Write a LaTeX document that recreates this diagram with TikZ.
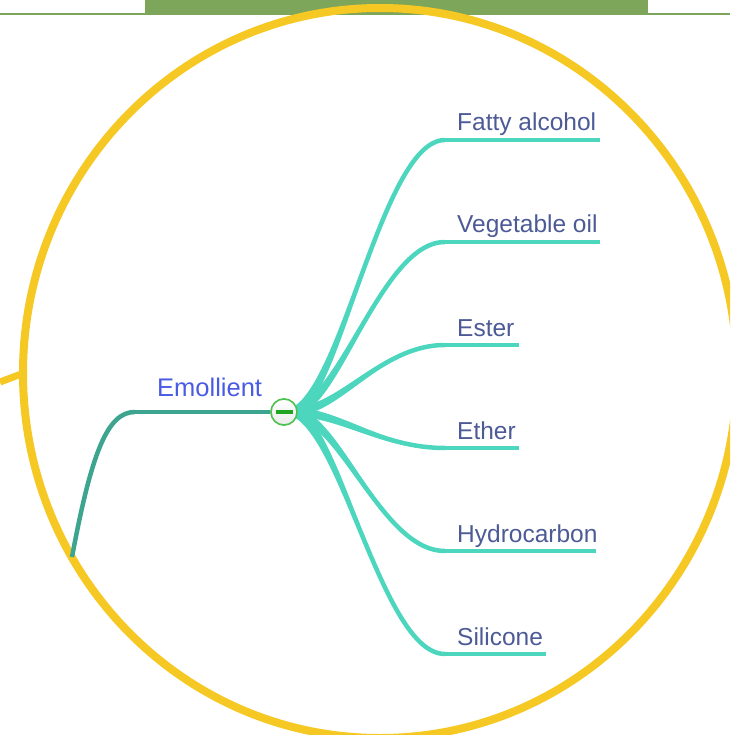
\documentclass[tikz,border=0pt]{standalone}
\usepackage{fontspec}
\setmainfont{Liberation Sans}
\usetikzlibrary{calc}
\definecolor{hdrgreen}{HTML}{7EA65A}
\definecolor{ringyellow}{HTML}{F5C823}
\definecolor{stemteal}{HTML}{3DA58F}
\definecolor{branchteal}{HTML}{4DD6BE}
\definecolor{rootblue}{HTML}{4A5BE3}
\definecolor{leafblue}{HTML}{4C5A96}
\definecolor{btngreen}{HTML}{4CC24C}
\definecolor{minusgreen}{HTML}{1FA51F}
\tikzset{
  leaf/.style={anchor=base west, inner sep=0pt, text=leafblue, font=\fontsize{24.5}{28}\selectfont},
  rootlabel/.style={anchor=base west, inner sep=0pt, text=rootblue, font=\fontsize{25.5}{30}\selectfont},
  branchfill/.style={fill=branchteal},
  branchline/.style={draw=branchteal, line width=4.5pt},
  underline/.style={draw=branchteal, line width=4pt},
  togglebtn/.style={circle, minimum size=26pt, inner sep=0pt, draw=btngreen, line width=1.5pt, fill=white},
}
\begin{document}
\begin{tikzpicture}[x=1pt,y=-1pt]
\useasboundingbox (0,0) rectangle (730,735);
\clip (0,0) rectangle (730,735);
% header band
\fill[hdrgreen] (0,13) rectangle (730,15.5);
\fill[hdrgreen] (145,0) rectangle (648,15.5);
% yellow ring and its incoming link
\draw[ringyellow, line width=7pt] (0,382) -- (24,373);
\draw[ringyellow, line width=8pt] (380,373) ellipse[x radius=357, y radius=365];
% stem into the main topic
\coordinate (stemstart) at (72,557);
\coordinate (stemend) at (135,412);
\draw[stemteal, line width=4.5pt] (stemstart) .. controls (92,450) and (108,412) .. (stemend);
% main topic
\node[togglebtn] (btn) at (284,412) {};
\draw[stemteal, line width=4.5pt] (stemend) -- (btn.west);
\node[rootlabel] (emollient) at (157,396) {Emollient};
% leaves
\foreach \name/\txt/\ly/\lend in {
  fatty/Fatty alcohol/140/600,
  veg/Vegetable oil/242/600,
  ester/Ester/345/519,
  ether/Ether/448/519,
  hydro/Hydrocarbon/551/596,
  sil/Silicone/654/546}{
  \coordinate (\name start) at (445,\ly);
  \coordinate (\name end) at (\lend,\ly);
  % tapered root of the branch
  \fill[branchfill] ($(btn.center)+(8,-4.5)$)
     .. controls ($(btn.center)+(56,-4.5)$) and ($(\name start)+(-65,-1.5)$) .. ($(\name start)+(0,-1.5)$)
     -- ($(\name start)+(0,1.5)$)
     .. controls ($(\name start)+(-65,1.5)$) and ($(btn.center)+(56,4.5)$) .. ($(btn.center)+(8,4.5)$)
     -- cycle;
  \draw[branchline] (btn.center) .. controls ($(btn.center)+(56,0)$) and ($(\name start)+(-65,0)$) .. (\name start);
  \draw[underline] (\name start) -- (\name end);
  \node[leaf] (\name) at ($(\name start)+(12,-9)$) {\txt};
}
% toggle button on top of the branches
\node[togglebtn, top color=white, bottom color=black!8] (btnface) at (btn.center) {};
\draw[minusgreen, line width=3.5pt] ($(btn.center)+(-8.5,0)$) -- ($(btn.center)+(8.5,0)$);
\end{tikzpicture}
\end{document}
